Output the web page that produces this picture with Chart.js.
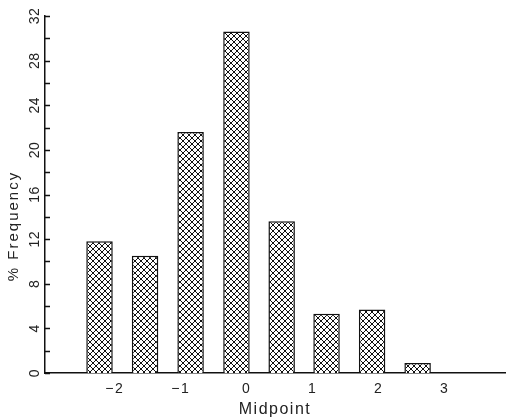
<!DOCTYPE html>
<html>
<head>
<meta charset="utf-8">
<script src="https://cdn.jsdelivr.net/npm/chart.js@4.4.1/dist/chart.umd.min.js"></script>
<style>
html,body{margin:0;padding:0;background:#fff;}
#wrap{width:511px;height:420px;}
</style>
</head>
<body>
<div id="wrap"><canvas id="c" width="511" height="420"></canvas></div>
<script>
// ---- data ----
const midpoints = [-2.23, -1.54, -0.85, -0.155, 0.53, 1.21, 1.90, 2.59];
const frequency = [11.8, 10.5, 21.6, 30.6, 13.6, 5.3, 5.7, 0.9];
const xTickValues = [-2, -1, 0, 1, 2, 3];
const yTickValues = [0, 4, 8, 12, 16, 20, 24, 28, 32];
const yMinorStep = 2;
const xTitle = 'Midpoint';
const yTitle = '% Frequency';

// crosshatch pattern
function makeHatch() {
  const s = 6;
  const p = document.createElement('canvas');
  p.width = s; p.height = s;
  const g = p.getContext('2d');
  g.fillStyle = '#fff';
  g.fillRect(0, 0, s, s);
  g.strokeStyle = '#111';
  g.lineWidth = 1;
  g.beginPath();
  g.moveTo(0, 0); g.lineTo(s, s);
  g.moveTo(0, s); g.lineTo(s, 0);
  g.stroke();
  return document.getElementById('c').getContext('2d').createPattern(p, 'repeat');
}

const FONT = "'Liberation Sans', Arial, sans-serif";

const spacingPlugin = {
  id: 'spacing',
  beforeDraw(chart) { chart.ctx.letterSpacing = '1.5px'; }
};

const yAxisPlugin = {
  id: 'yAxisDeco',
  afterDraw(chart) {
    const ctx = chart.ctx;
    const ys = chart.scales.y;
    const ax = chart.chartArea.left;
    ctx.save();
    // inward tick marks
    ctx.strokeStyle = '#111';
    ctx.lineWidth = 1.3;
    ctx.beginPath();
    for (let v = ys.min; v <= ys.max; v += yMinorStep) {
      const py = Math.round(ys.getPixelForValue(v)) + 0.5;
      ctx.moveTo(ax, py);
      ctx.lineTo(ax + 5, py);
    }
    ctx.stroke();
    // rotated tick labels
    ctx.fillStyle = '#222';
    ctx.textAlign = 'center';
    ctx.textBaseline = 'middle';
    ctx.letterSpacing = '0.5px';
    ctx.font = '14px ' + FONT;
    yTickValues.forEach(v => {
      const py = ys.getPixelForValue(v);
      ctx.save();
      ctx.translate(35, py);
      ctx.rotate(-Math.PI / 2);
      ctx.fillText(String(v), 0, 0);
      ctx.restore();
    });
    // rotated axis title
    ctx.font = '15px ' + FONT;
    ctx.letterSpacing = '2px';
    ctx.save();
    ctx.translate(14, 226);
    ctx.rotate(-Math.PI / 2);
    ctx.fillText(yTitle, 0, 0);
    ctx.restore();
    ctx.restore();
  }
};

new Chart(document.getElementById('c'), {
  type: 'bar',
  data: {
    datasets: [{
      data: midpoints.map((m, i) => ({ x: m, y: frequency[i] })),
      backgroundColor: makeHatch(),
      borderColor: '#111',
      borderWidth: 1.5,
      borderSkipped: 'bottom',
      categoryPercentage: 1.0,
      barPercentage: 0.59
    }]
  },
  options: {
    responsive: false,
    animation: false,
    events: [],
    layout: { padding: { top: 16, right: 6, left: 0, bottom: 0 } },
    plugins: { legend: { display: false }, tooltip: { enabled: false } },
    scales: {
      x: {
        type: 'linear',
        offset: false,
        min: -3.056,
        max: 3.914,
        grid: { display: false, drawTicks: false },
        border: { display: true, color: '#111', width: 1.5 },
        afterBuildTicks(scale) { scale.ticks = xTickValues.map(v => ({ value: v })); },
        afterFit(scale) { scale.height = 47; },
        ticks: {
          padding: 8,
          color: '#222',
          font: { family: FONT, size: 14 },
          maxRotation: 0,
          autoSkip: false,
          callback: v => (v < 0 ? '\u2212' + Math.abs(v) : String(v))
        },
        title: {
          display: true,
          text: xTitle,
          color: '#222',
          font: { family: FONT, size: 16 },
          padding: { top: 0, bottom: 1 }
        }
      },
      y: {
        min: 0,
        max: 32,
        afterFit(scale) { scale.width = 45; },
        grid: { display: false, drawTicks: false },
        border: { display: true, color: '#111', width: 1.5 },
        ticks: { display: false }
      }
    }
  },
  plugins: [spacingPlugin, yAxisPlugin]
});
</script>
</body>
</html>
